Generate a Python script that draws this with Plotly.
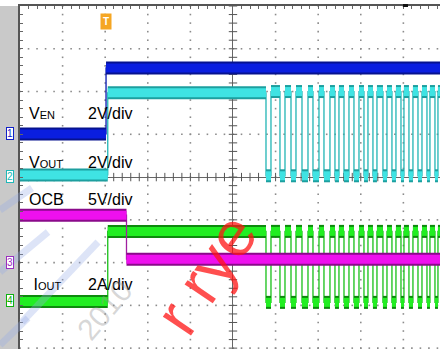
import numpy as np
import plotly.graph_objects as go

# Screen coordinates: time and amplitude in divisions measured from the screen centre
X_MIN, X_MAX = -5.0, 4.86
Y_MIN, Y_MAX = -4.02, 4.0

# Channel 1: enable pin (step at the trigger point)
ven_t = [X_MIN, -2.98, X_MAX]
ven_v = [1.01, 2.55, 2.55]

# Switching burst after the fault: state-change instants (first one drops low)
sw_t = [0.775, 0.892, 1.103, 1.221, 1.362, 1.479, 1.620, 1.761, 1.878, 2.019,
        2.136, 2.277, 2.394, 2.488, 2.606, 2.723, 2.840, 2.958, 3.075, 3.169,
        3.286, 3.380, 3.521, 3.615, 3.732, 3.826, 3.944, 4.014, 4.131, 4.225,
        4.343, 4.437, 4.554, 4.624, 4.742, 4.812]

# Channel 2: output voltage
vout_start_t = [X_MIN, -2.94]
vout_start_v = [0.05, 1.97]
vout_sw_low, vout_sw_high = 0.03, 2.0

# Channel 3: over-current blanking signal
ocb_t = [X_MIN, -2.50, X_MAX]
ocb_v = [-0.89, -1.92, -1.92]

# Channel 4: output current
iout_start_t = [X_MIN, -2.94]
iout_start_v = [-2.91, -1.27]
iout_sw_low, iout_sw_high = -2.93, -1.27

# Channel label texts and scale settings
labels = [("V<span style='font-size:11px'>EN</span>", "2V/div", 1.49),
          ("V<span style='font-size:11px'>OUT</span>", "2V/div", 0.34),
          ("OCB", "5V/div", -0.53),
          (" I<span style='font-size:11px'>OUT</span>", "2A/div", -2.51)]
ground_markers = [("1", 1.01, "#1020c8"), ("2", 0.02, "#20b8b8"),
                  ("3", -1.99, "#9a30c0"), ("4", -2.88, "#10b010")]


def with_burst(t0, v0, low, high):
    t = list(t0) + list(sw_t)
    v = list(v0) + [low if i % 2 == 0 else high for i in range(len(sw_t))]
    t.append(X_MAX)
    v.append(v[-1])
    return t, v


def plateaus(t, v):
    xs, ys = [], []
    for i in range(len(t) - 1):
        xs += [t[i], t[i + 1], None]
        ys += [v[i], v[i], None]
    return xs, ys


vout_t, vout_v = with_burst(vout_start_t, vout_start_v, vout_sw_low, vout_sw_high)
iout_t, iout_v = with_burst(iout_start_t, iout_start_v, iout_sw_low, iout_sw_high)

fig = go.Figure()

# graticule dots
gx, gy = [], []
for i in [-4, -3, -2, -1, 1, 2, 3, 4]:
    for y in np.arange(-4, 4.01, 0.2):
        gx.append(i); gy.append(y)
for j in [-4, -3, -2, -1, 1, 2, 3]:
    for x in np.arange(-5, 4.9, 0.2):
        gx.append(x); gy.append(j)
fig.add_trace(go.Scatter(x=gx, y=gy, mode="markers", hoverinfo="skip",
                         marker=dict(symbol="square", size=1.6, color="#8c8c8c")))

# centre-axis minor ticks
cx = np.arange(-5, 4.9, 0.2)
cy = np.arange(-4, 4.01, 0.2)
fig.add_trace(go.Scatter(x=cx, y=np.zeros_like(cx), mode="markers", hoverinfo="skip",
                         marker=dict(symbol="line-ns-open", size=6, color="#555",
                                     line=dict(width=1, color="#555"))))
fig.add_trace(go.Scatter(x=np.zeros_like(cy), y=cy, mode="markers", hoverinfo="skip",
                         marker=dict(symbol="line-ew-open", size=6, color="#555",
                                     line=dict(width=1, color="#555"))))


def add_channel(t, v, main, edge, fringe, width=13):
    fig.add_trace(go.Scatter(x=t, y=v, mode="lines", line_shape="hv", hoverinfo="skip",
                             line=dict(color=edge, width=1.3)))
    px, py = plateaus(t, v)
    fig.add_trace(go.Scatter(x=px, y=py, mode="lines", hoverinfo="skip",
                             line=dict(color=fringe, width=width)))
    fig.add_trace(go.Scatter(x=px, y=py, mode="lines", hoverinfo="skip",
                             line=dict(color=main, width=width - 4)))


add_channel(vout_t, vout_v, "#3fe3e3", "#22b5b5", "#1d9f9f")
add_channel(ven_t, ven_v, "#0a1ee0", "#0818b0", "#06128f")
add_channel(iout_t, iout_v, "#22ee22", "#18c018", "#0e8a0e")
add_channel(ocb_t, ocb_v, "#ee10ee", "#a020a0", "#8a0a8a")

# left channel strip and horizontal-position mark
shapes = [dict(type="rect", xref="paper", yref="paper", x0=0, x1=20 / 440,
               y0=0, y1=343 / 349, fillcolor="#c9c9c9", line=dict(width=0), layer="below"),
          dict(type="rect", xref="paper", yref="paper", x0=403 / 440, x1=408 / 440,
               y0=1 - 7 / 349, y1=1 - 4 / 349, fillcolor="#111", line=dict(width=0))]

# watermark strokes
for (x0, y0, x1, y1) in [(0, 272, 48, 232), (22, 322, 98, 242), (0, 345, 28, 318),
                         (0, 210, 32, 188)]:
    shapes.append(dict(type="line", xref="paper", yref="paper",
                       x0=x0 / 440, y0=1 - y0 / 349, x1=x1 / 440, y1=1 - y1 / 349,
                       line=dict(color="rgba(150,170,230,0.32)", width=7)))

annotations = []
for name, scale, y in labels:
    annotations.append(dict(x=(27 - 233) / 42.6, y=y, xref="x", yref="y", text=name,
                            showarrow=False, xanchor="left", yanchor="middle",
                            font=dict(size=16, color="black")))
    annotations.append(dict(x=(86 - 233) / 42.6, y=y, xref="x", yref="y", text=scale,
                            showarrow=False, xanchor="left", yanchor="middle",
                            font=dict(size=16, color="black")))
for num, y, col in ground_markers:
    annotations.append(dict(x=10 / 440, y=y, xref="paper", yref="y", text=num,
                            showarrow=False, xanchor="center", yanchor="middle",
                            font=dict(size=10, color=col), bgcolor="white",
                            bordercolor=col, borderwidth=1, borderpad=0))

# trigger marker
annotations.append(dict(x=-2.98, y=1 - 13 / 349, xref="x", yref="paper", text="<b>T</b>",
                        showarrow=False, font=dict(size=10, color="white"),
                        bgcolor="#f5a623", borderpad=2))

# watermarks
annotations.append(dict(x=206 / 440, y=1 - 274 / 349, xref="paper", yref="paper",
                        xanchor="center", yanchor="middle",
                        text="r rye", showarrow=False, textangle=-56,
                        font=dict(size=64, color="rgba(255,20,20,0.75)")))
annotations.append(dict(x=104 / 440, y=1 - 310 / 349, xref="paper", yref="paper",
                        xanchor="center", yanchor="middle",
                        text="2010", showarrow=False, textangle=-50,
                        font=dict(size=30, color="rgba(150,150,150,0.38)")))

fig.update_layout(
    width=440, height=349, margin=dict(l=0, r=0, t=0, b=0),
    paper_bgcolor="white", plot_bgcolor="white", showlegend=False,
    font=dict(family="Liberation Sans, Arial, sans-serif"),
    shapes=shapes, annotations=annotations,
    xaxis=dict(domain=[20 / 440, 1], range=[X_MIN, X_MAX], showgrid=False,
               zeroline=True, zerolinecolor="#666", zerolinewidth=1,
               showline=True, linecolor="#555", linewidth=1.5, side="top",
               ticks="inside", ticklen=3, tickcolor="#666", tick0=0, dtick=0.2,
               showticklabels=False, fixedrange=True),
    yaxis=dict(domain=[0, 343 / 349], range=[Y_MIN, Y_MAX], showgrid=False,
               zeroline=True, zerolinecolor="#666", zerolinewidth=1,
               showline=True, linecolor="#555", linewidth=1.5, side="left",
               ticks="inside", ticklen=3, tickcolor="#666", tick0=0, dtick=0.2,
               showticklabels=False, fixedrange=True),
)

fig.write_html("out.html")
